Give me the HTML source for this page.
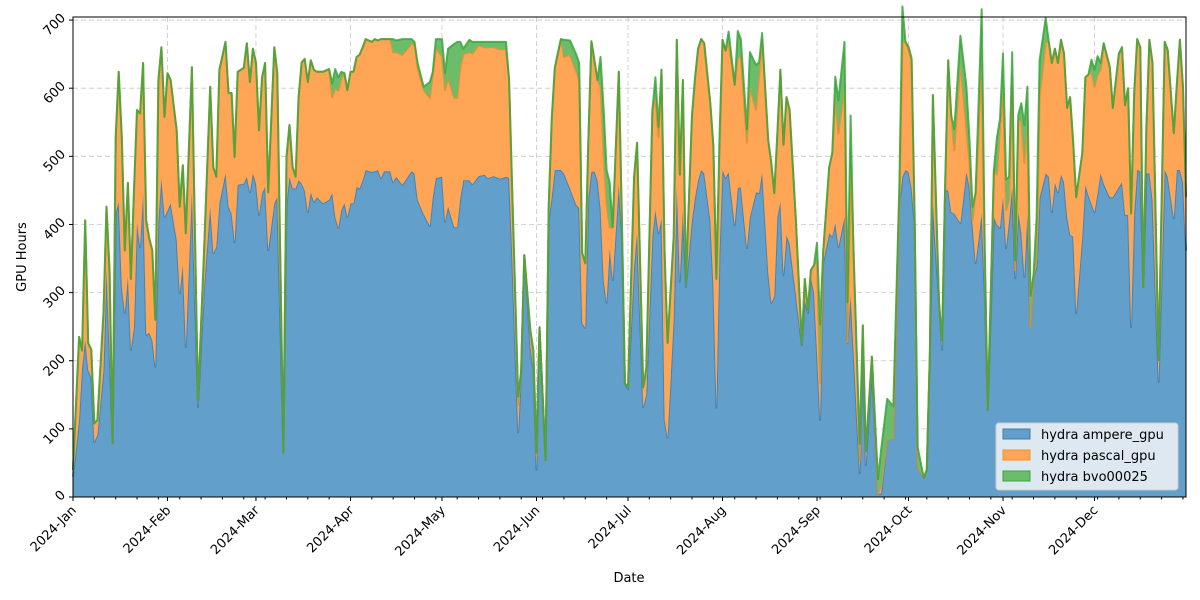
<!DOCTYPE html>
<html><head><meta charset="utf-8"><style>
html,body{margin:0;padding:0;background:#fff;width:1200px;height:600px;overflow:hidden}
svg text{font-family:"DejaVu Sans","Liberation Sans",sans-serif;fill:#000}
</style></head><body>
<svg id="chart" width="1200" height="600" viewBox="0 0 1200 600">
<g id="grid"></g>
<g id="areas"></g>
<g id="axes"></g>
<text x="629" y="582" text-anchor="middle" font-size="13">Date</text>
<text x="26" y="257" text-anchor="middle" font-size="13" transform="rotate(-90 26 257)">GPU Hours</text>
<g>
<rect x="996" y="423" width="182" height="67" rx="3" fill="#dde8f0" stroke="#ccc"/>
<g><rect x="1003" y="429" width="27" height="10" fill="#629fca" stroke="#3f7fb0"/><text x="1041" y="439" font-size="13">hydra ampere_gpu</text></g>
<g><rect x="1003" y="450" width="27" height="10" fill="#ffa556" stroke="#f59030"/><text x="1041" y="460" font-size="13">hydra pascal_gpu</text></g>
<g><rect x="1003" y="471" width="27" height="10" fill="#6bbc6b" stroke="#3ca53c"/><text x="1041" y="481" font-size="13">hydra bvo00025</text></g>
</g>
</svg>
<script>
const days=[0,2,3,4,5,6,7,8,10,11,12,13,14,15,16,17,18,19,20,21,22,23,24,25,26,27,28,29,30,31,32,34,35,36,37,39,41,43,45,46,47,48,50,51,52,53,54,56,57,58,59,60,61,62,63,64,66,67,69,70,71,72,73,74,75,76,77,78,79,80,82,84,85,86,87,88,89,90,91,92,93,94,95,96,98,99,100,101,102,104,105,106,108,111,112,113,115,117,118,119,121,122,123,125,126,127,128,130,131,133,135,136,138,140,142,143,144,146,147,148,150,151,152,153,155,156,157,158,159,160,161,163,165,166,167,168,169,170,171,172,173,174,175,176,177,179,180,181,182,184,185,187,188,190,191,192,193,194,195,197,198,199,200,201,203,204,205,206,207,209,210,211,212,213,214,215,217,218,219,221,222,224,225,226,228,229,230,231,232,233,234,235,237,239,240,241,242,243,244,245,246,248,249,250,251,253,254,255,256,258,259,260,262,264,265,267,269,271,272,273,274,275,276,277,279,280,281,282,284,285,286,287,288,289,291,293,294,295,296,298,299,300,302,303,304,305,306,307,308,309,310,311,312,313,314,315,316,317,319,320,321,322,323,324,325,326,327,328,329,331,332,333,334,335,336,337,338,340,341,343,344,345,346,347,348,349,350,351,352,353,354,356,358,359,361,362,363,364,365];
const ampere=[30,113,190,230,186,176,81,91,186,333,211,79,417,433,308,270,323,216,249,402,367,446,238,241,230,191,406,468,411,420,431,377,299,340,220,447,132,308,426,358,367,431,475,426,416,374,458,460,470,447,475,460,414,446,455,362,431,440,65,430,470,453,453,465,460,450,418,447,433,440,431,436,446,411,395,421,431,411,431,431,455,453,465,480,477,478,480,468,478,478,462,470,458,478,475,436,415,398,440,468,470,404,426,396,396,439,465,465,459,471,473,468,471,467,470,468,358,95,186,355,220,186,40,249,54,406,440,480,480,480,475,453,429,424,255,248,440,477,478,465,424,318,285,365,318,458,382,167,158,338,387,132,150,382,421,387,409,113,87,260,455,316,421,308,406,440,465,480,475,406,308,131,358,480,468,477,399,453,455,365,411,447,446,477,329,285,294,411,433,326,384,372,299,223,289,270,321,300,211,113,343,387,382,402,367,411,226,296,211,35,211,47,186,5,5,84,86,431,470,480,477,453,400,44,28,40,211,431,285,216,450,450,418,416,402,477,455,400,343,416,300,128,411,400,395,440,365,406,455,321,418,387,323,416,249,323,338,439,475,470,418,461,447,473,462,411,385,382,270,382,458,443,430,418,446,475,460,440,440,455,462,414,414,249,414,480,478,308,475,475,436,169,480,470,409,480,480,461,362];
const pascal=[10,122,25,176,40,40,27,22,84,93,119,0,111,191,220,92,138,104,201,166,196,191,168,139,132,69,206,192,147,202,181,161,127,147,167,184,10,54,176,126,103,196,193,167,177,125,166,170,196,162,183,177,124,170,182,85,229,182,0,69,76,31,17,122,178,193,191,194,194,184,193,192,141,189,201,193,191,186,193,193,191,196,195,192,191,194,190,204,194,194,191,183,191,187,190,194,182,188,179,192,176,193,189,190,190,192,185,188,192,192,187,192,189,190,187,144,97,40,0,0,20,20,20,0,0,20,113,150,171,192,171,196,196,188,103,95,80,192,163,147,178,182,145,30,78,166,24,0,3,132,133,29,30,186,165,141,218,245,139,122,216,157,191,6,154,176,193,192,191,172,206,189,142,191,187,191,206,192,191,155,191,121,174,194,195,205,152,123,194,191,203,196,112,3,31,4,12,40,137,54,15,97,123,185,167,191,1,194,147,19,41,20,20,0,10,0,0,0,198,188,180,187,6,0,0,0,0,159,0,14,5,191,142,93,235,63,35,6,103,222,48,0,69,73,145,160,56,30,164,12,135,166,167,137,0,0,12,148,193,198,219,197,190,198,189,160,202,138,170,123,158,177,194,184,174,152,206,191,131,196,198,161,186,167,179,192,182,0,68,196,201,32,188,186,125,127,191,140,78];
const bvo=[0,0,0,0,0,0,0,0,0,0,0,0,0,0,0,0,0,0,0,0,0,0,0,0,0,0,0,0,0,0,0,0,0,0,0,0,0,0,0,0,0,0,0,0,0,0,0,0,0,0,0,0,0,0,0,0,0,0,0,0,0,0,0,0,0,0,0,0,0,0,0,0,20,28,20,10,0,0,0,0,0,0,0,0,0,0,0,0,0,0,19,17,23,7,3,7,5,23,5,12,26,25,43,79,82,37,8,18,17,5,8,8,8,11,11,0,0,12,0,0,5,10,5,0,0,0,0,0,0,0,25,21,25,25,0,0,0,0,0,0,44,70,50,66,0,0,0,0,0,0,0,0,10,0,30,15,0,0,0,0,0,0,0,0,0,0,0,0,0,0,0,0,28,0,0,15,0,39,26,20,51,66,18,10,0,0,0,0,0,0,0,0,0,0,0,0,0,0,25,86,0,0,0,30,48,66,59,70,0,24,0,0,0,21,54,60,47,29,52,0,4,4,12,29,0,0,0,0,0,0,0,0,0,31,40,63,34,20,0,78,24,0,0,54,15,51,45,34,34,14,8,25,56,49,46,3,60,54,35,0,0,0,0,0,0,0,0,0,0,0,0,0,18,25,27,10,0,0,0,0,0,0,0,0,0,0,0,0,0,0,0,0,0,0,0,0,0,0,0,0,0,6];
const yTicks=[0,100,200,300,400,500,600,700];
const monthLabels=["2024-Jan","2024-Feb","2024-Mar","2024-Apr","2024-May","2024-Jun","2024-Jul","2024-Aug","2024-Sep","2024-Oct","2024-Nov","2024-Dec"];
const monthStarts=[0,31,60,91,121,152,182,213,244,274,305,335];

const NS="http://www.w3.org/2000/svg";
const X0=73,X1=1186,Y0=497,Y1=17,DMAX=365,VMAX=704.5;
const xs=d=>X0+d*(X1-X0)/DMAX;
const ys=v=>Y0-v*(Y0-Y1)/VMAX;
function mk(tag,attrs,parent){const e=document.createElementNS(NS,tag);for(const k in attrs)e.setAttribute(k,attrs[k]);parent.appendChild(e);return e;}
const grid=document.getElementById('grid'),areas=document.getElementById('areas'),axes=document.getElementById('axes');

yTicks.forEach(v=>{if(v===0)return;const l=mk('line',{x1:X0,x2:X1,y1:ys(v),y2:ys(v),stroke:'#c8c8c8','stroke-dasharray':'5,3','stroke-width':0.8},grid);

});
monthStarts.forEach(d=>{if(d===0)return;const l=mk('line',{x1:xs(d),x2:xs(d),y1:Y1,y2:Y0,stroke:'#c8c8c8','stroke-dasharray':'5,3','stroke-width':0.8},grid);

});

const c1=ampere.map((a,i)=>a), c2=ampere.map((a,i)=>a+pascal[i]), c3=ampere.map((a,i)=>a+pascal[i]+bvo[i]);
function band(lo,hi,fill,stroke,name){
  let d='M'+xs(days[0])+','+ys(hi[0]);
  for(let i=1;i<days.length;i++)d+='L'+xs(days[i]).toFixed(1)+','+ys(hi[i]).toFixed(1);
  for(let i=days.length-1;i>=0;i--)d+='L'+xs(days[i]).toFixed(1)+','+ys(lo?lo[i]:0).toFixed(1);
  const p=mk('path',{d:d+'Z',fill:fill,stroke:'none'},areas);
  
  
  let ld='M'+xs(days[0])+','+ys(hi[0]);
  for(let i=1;i<days.length;i++)ld+='L'+xs(days[i]).toFixed(1)+','+ys(hi[i]).toFixed(1);
  const l=mk('path',{d:ld,fill:'none',stroke:stroke,'stroke-width':2,'stroke-linejoin':'round','stroke-opacity':0.85},areas);
  
  
}
band(null,c1,'#629fca','#3f7fb0','ampere');
band(c1,c2,'#ffa556','#f08a25','pascal');
band(c2,c3,'#6bbc6b','#3ca53c','bvo00025');

const frame=mk('rect',{x:X0,y:Y1,width:X1-X0,height:Y0-Y1,fill:'none',stroke:'#000','stroke-width':1},axes);


yTicks.forEach(v=>{const y=ys(v);mk('line',{x1:X0-4,x2:X0,y1:y,y2:y,stroke:'#000'},axes);
 const t=mk('text',{x:X0-8,y:y+4,'text-anchor':'end','font-size':13,transform:'rotate(-45 '+(X0-14)+' '+y+')'},axes);t.textContent=v;
 
 });
for(let d=0;d<=DMAX;d+=7){mk('line',{x1:xs(d),x2:xs(d),y1:Y0,y2:Y0+2.5,stroke:'#000'},axes);}
monthStarts.forEach((d,i)=>{const x=xs(d);mk('line',{x1:x,x2:x,y1:Y0,y2:Y0+4,stroke:'#000'},axes);
 const t=mk('text',{x:x+4,y:Y0+14,'text-anchor':'end','font-size':13,transform:'rotate(-45 '+(x+4)+' '+(Y0+14)+')'},axes);t.textContent=monthLabels[i];
 
 });
</script>
</body></html>
